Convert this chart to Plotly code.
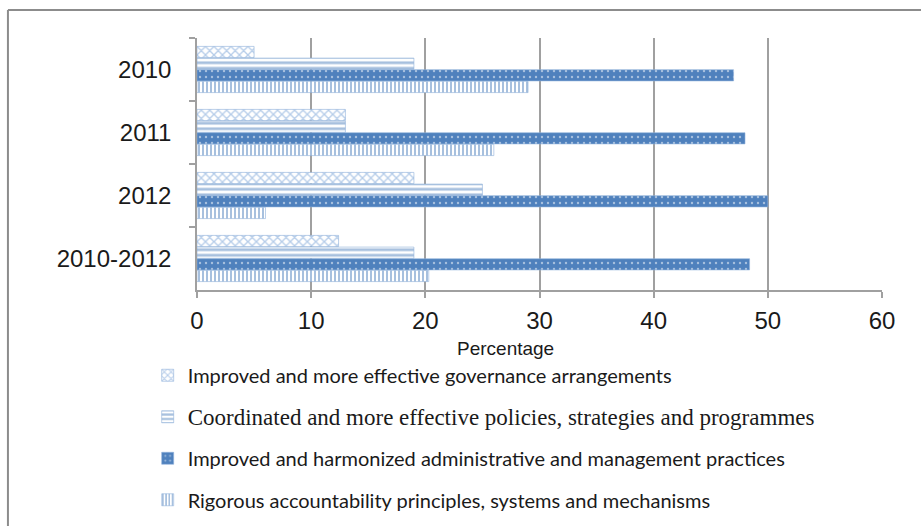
import plotly.graph_objects as go

# Share of outputs by expected accomplishment, per reporting period
periods = ["2010", "2011", "2012", "2010-2012"]
governance = [5, 13, 19, 12.4]
coordinated = [19, 13, 25, 19]
administrative = [47, 48, 50, 48.4]
accountability = [29, 26, 6, 20.3]

series_names = [
    '<span style="font-family:Lato">Improved and more effective governance arrangements</span>',
    '<span style="font-family:Liberation Serif;font-size:23px">Coordinated and more effective policies, strategies and programmes</span>',
    '<span style="font-family:Lato">Improved and harmonized administrative and management practices</span>',
    '<span style="font-family:Lato">Rigorous accountability principles, systems and mechanisms</span>',
]
x_ticks = [0, 10, 20, 30, 40, 50, 60]

BLUE = "#4F81BD"

patterns = [
    dict(shape="x", fgcolor="#6E9BD4", bgcolor="white", size=6, solidity=0.4),
    dict(shape="-", fgcolor=BLUE, bgcolor="white", size=5.5, solidity=0.5),
    dict(shape=".", fgcolor="white", bgcolor=BLUE, size=6, solidity=0.12),
    dict(shape="|", fgcolor=BLUE, bgcolor="white", size=4, solidity=0.5),
]

fig = go.Figure()
for i, (name, vals) in enumerate(zip(series_names,
                                     [governance, coordinated, administrative, accountability])):
    fig.add_trace(go.Bar(
        y=periods, x=vals, orientation="h", name=name,
        legendgroup=f"g{i}",
        marker=dict(color="white", pattern=patterns[i],
                    line=dict(width=0.6, color="#8FB0DA")),
        hoverinfo="x+y",
    ))

fig.update_layout(
    width=921, height=526,
    margin=dict(l=197, r=39, t=38, b=236, autoexpand=False),
    paper_bgcolor="white", plot_bgcolor="white",
    barmode="group", bargap=0.26, bargroupgap=0.04,
    font=dict(family="Liberation Sans", color="#1a1a1a"),
    showlegend=True,
    legend=dict(
        x=-0.072, y=-0.261, xanchor="left", yanchor="top",
        traceorder="grouped", tracegroupgap=12.5,
        font=dict(size=20, color="#1a1a1a"),
        itemwidth=30, bgcolor="rgba(0,0,0,0)",
    ),
    xaxis=dict(
        range=[0, 60], tickvals=x_ticks, ticktext=[str(v) for v in x_ticks],
        showgrid=True, gridcolor="#A0A0A0", gridwidth=1.5,
        zeroline=False, showline=True, linecolor="#A0A0A0", linewidth=1.5,
        ticks="outside", ticklen=6, tickcolor="#A0A0A0", tickwidth=1.5,
        ticklabelstandoff=2,
        tickfont=dict(size=24, family="Liberation Sans", color="#1a1a1a"),
        fixedrange=True,
    ),
    yaxis=dict(
        categoryorder="array", categoryarray=periods, autorange="reversed",
        showline=True, linecolor="#A0A0A0", linewidth=1.5,
        ticks="outside", ticklen=6, tickcolor="#A0A0A0", tickwidth=1.5,
        tickson="boundaries", ticklabelstandoff=19,
        tickfont=dict(size=24, family="Liberation Sans", color="#1a1a1a"),
        showgrid=False, fixedrange=True,
    ),
    annotations=[dict(
        text="Percentage", xref="paper", yref="paper",
        x=0.45, y=-0.232, xanchor="center", yanchor="middle",
        showarrow=False, font=dict(size=19, family="Liberation Sans", color="#1a1a1a"),
    )],
    shapes=[
        # outer frame of the chart area (top and left edges)
        dict(type="line", xref="paper", yref="paper",
             x0=-0.276, x1=1.06, y0=1.111, y1=1.111,
             line=dict(color="#8C8C8C", width=2)),
        dict(type="line", xref="paper", yref="paper",
             x0=-0.276, x1=-0.276, y0=1.111, y1=-0.95,
             line=dict(color="#8C8C8C", width=2)),
    ],
)

fig.write_html("out.html")
